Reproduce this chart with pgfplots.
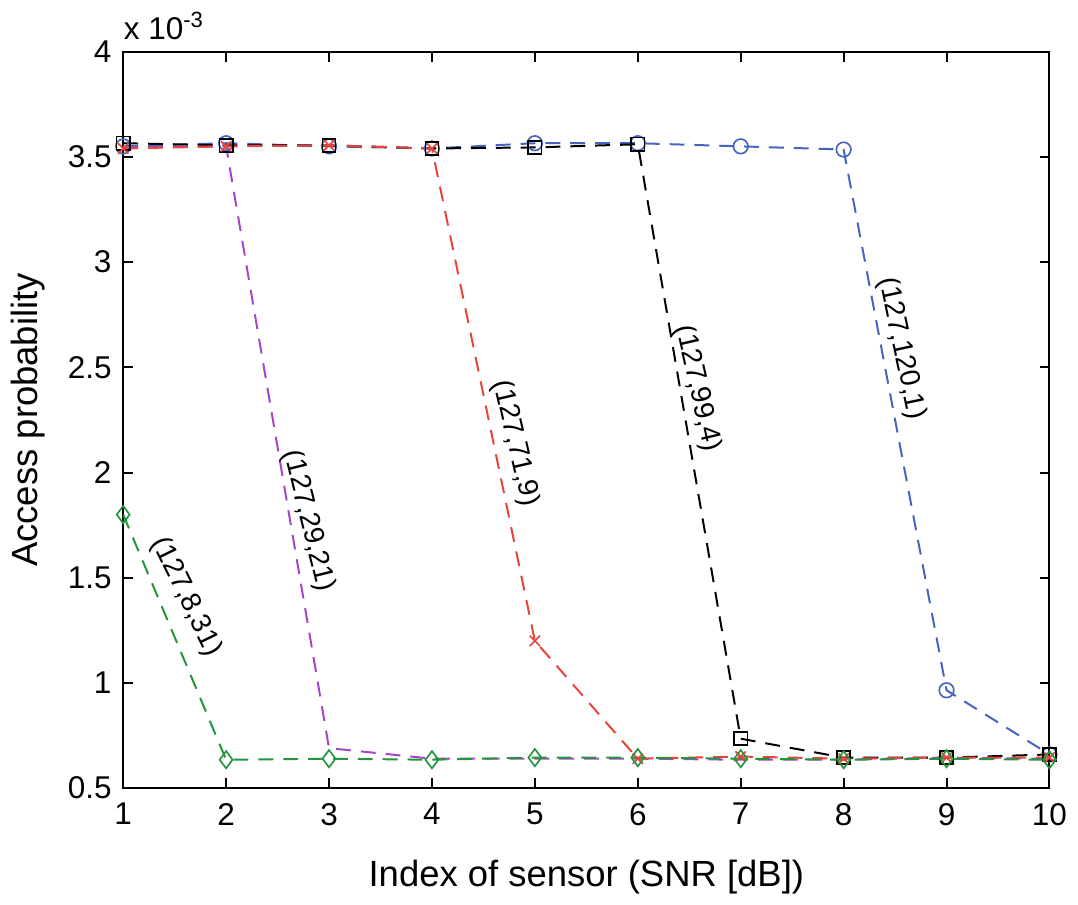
\documentclass[border=0pt]{standalone}
\usepackage{pgfplots}
\pgfplotsset{compat=1.18}
\usepackage{fontspec}
\setmainfont{Liberation Sans}
\definecolor{cblue}{RGB}{70,100,190}
\definecolor{cred}{RGB}{232,68,58}
\definecolor{cpurple}{RGB}{165,70,200}
\definecolor{cgreen}{RGB}{35,150,60}
\begin{document}
\begin{tikzpicture}
\begin{axis}[
  name=ax,
  scale only axis,
  width=279.6pt, height=222.3pt,
  xmin=1, xmax=10, ymin=0.5, ymax=4,
  xtick={1,...,10},
  ytick={0.5,1,1.5,2,2.5,3,3.5,4},
  yticklabels={0.5,1,1.5,2,2.5,3,3.5,4},
  tick align=inside, major tick length=3pt,
  xtick pos=both, ytick pos=both,
  /pgf/number format/assume math mode=true,
  tick label style={font=\fontsize{9.5}{11}\selectfont},
  xticklabel style={yshift=-1pt},
  label style={font=\fontsize{11}{13}\selectfont},
  xlabel={Index of sensor (SNR [dB])},
  ylabel={Access probability},
  xlabel style={yshift=-3.5pt},
  ylabel style={yshift=0pt},
  axis line style={line width=0.6pt},
  every tick/.style={black, line width=0.6pt},
  clip=false,
  every axis plot/.append style={line width=0.6pt, dash pattern=on 4.5pt off 3pt},
  mark options={solid, line width=0.5pt},
]
\addplot[cblue, mark=o, mark size=2.2pt] coordinates {
(1,3.55) (2,3.565) (3,3.55) (4,3.54) (5,3.565) (6,3.565) (7,3.55) (8,3.535) (9,0.965) (10,0.66)};
\addplot[black, mark=square, mark size=2pt] coordinates {
(1,3.565) (2,3.555) (3,3.555) (4,3.54) (5,3.545) (6,3.56) (7,0.735) (8,0.645) (9,0.645) (10,0.66)};
\addplot[cpurple] coordinates {
(1,3.545) (2,3.55) (3,0.69) (4,0.64) (5,0.64) (6,0.64) (7,0.635) (8,0.635) (9,0.645) (10,0.64)};
\addplot[cred, mark=x, mark size=2.2pt] coordinates {
(1,3.54) (2,3.55) (3,3.555) (4,3.54) (5,1.2) (6,0.64) (7,0.65) (8,0.64) (9,0.645) (10,0.645)};
\addplot[cgreen, mark=diamond, mark size=2.6pt] coordinates {
(1,1.8) (2,0.635) (3,0.64) (4,0.635) (5,0.645) (6,0.645) (7,0.64) (8,0.635) (9,0.64) (10,0.635)};
\node[font=\fontsize{8.5}{10}\selectfont, rotate=-64] at (axis cs:1.61,1.41) {(127,8,31)};
\node[font=\fontsize{8.5}{10}\selectfont, rotate=-76] at (axis cs:2.80,1.77) {(127,29,21)};
\node[font=\fontsize{8.5}{10}\selectfont, rotate=-77] at (axis cs:4.81,2.14) {(127,71,9)};
\node[font=\fontsize{8.5}{10}\selectfont, rotate=-77] at (axis cs:6.58,2.40) {(127,99,4)};
\node[font=\fontsize{8.5}{10}\selectfont, rotate=-78] at (axis cs:8.56,2.59) {(127,120,1)};
\node[anchor=base west, font=\fontsize{9.5}{11}\selectfont, inner sep=0pt] at ([yshift=3.6pt]rel axis cs:0,1) {x 10\textsuperscript{-3}};
\end{axis}
\path ([yshift=15.6pt]ax.north west) -- ([yshift=15.6pt]ax.north east);
\path ([yshift=-34.2pt]ax.south west) -- ([yshift=-34.2pt]ax.south east);
\end{tikzpicture}
\end{document}
